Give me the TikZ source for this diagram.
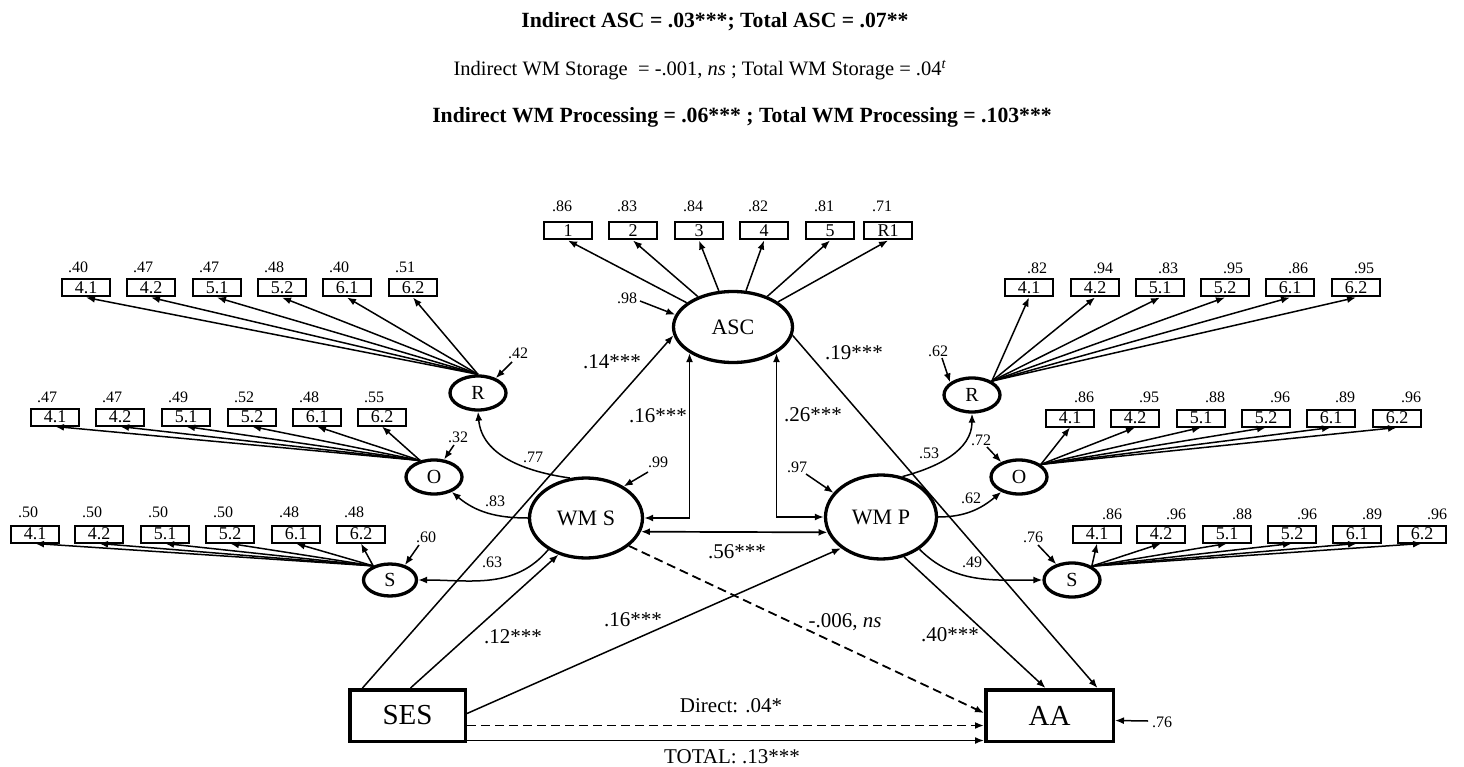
\documentclass[tikz,border=0pt]{standalone}
\usepackage{fontspec}
\setmainfont{Liberation Serif}
\usetikzlibrary{arrows.meta,shapes.geometric,calc}
\newcommand\fsz[1]{\fontsize{#1}{#1}\selectfont}
\begin{document}
\begin{tikzpicture}[x=1pt,y=1pt,
  lat/.style={ellipse,draw,line width=3.3pt,inner sep=0pt},
  latsm/.style={lat,minimum width=56pt,minimum height=34pt,font=\fsz{20}},
  obs/.style={rectangle,draw,line width=2pt,minimum width=48pt,minimum height=17pt,inner sep=0pt,font=\fsz{18}},
  bigbox/.style={rectangle,draw,line width=3.5pt,inner sep=0pt,minimum height=51.5pt,font=\fsz{29}},
  lab/.style={inner sep=0pt,font=\fsz{16}},
  plab/.style={inner sep=0pt,font=\fsz{21}},
  con/.style={line width=1.5pt,-{Latex[length=9pt,width=7pt]}},
  dcon/.style={line width=1.7pt,{Latex[length=9pt,width=7pt]}-{Latex[length=9pt,width=7pt]}},
  dashcon/.style={con,line width=1.8pt,dash pattern=on 9pt off 5pt},
]
\fill[white] (0,0) rectangle (1464,-767);
\useasboundingbox (0,0) rectangle (1464,-767);

% titles
\node[font=\fsz{21.7}\bfseries] (t1) at (715,-22) {Indirect ASC = .03***; Total ASC = .07**};
\node[font=\fsz{20.5}] (t2) at (700,-70) {Indirect WM Storage\ \ = -.001, \textit{ns} ; Total WM Storage = .04\textsuperscript{\textit{t}}};
\node[font=\fsz{21.7}\bfseries] (t3) at (742,-117) {Indirect WM Processing = .06*** ; Total WM Processing = .103***};

% latent variables
\node[lat,minimum width=119pt,minimum height=71pt,font=\fsz{22}] (asc) at (733,-327) {ASC};
\node[lat,minimum width=113pt,minimum height=80pt,font=\fsz{22}] (wms) at (586,-518) {WM S};
\node[lat,minimum width=111pt,minimum height=84pt,font=\fsz{22}] (wmp) at (881,-517) {WM P};
\node[latsm] (lR) at (478,-393) {R};
\node[latsm] (lO) at (434,-477) {O};
\node[latsm,minimum width=53pt,minimum height=32pt] (lS) at (390,-580) {S};
\node[latsm] (rR) at (972,-395) {R};
\node[latsm] (rO) at (1019,-477) {O};
\node[latsm] (rS) at (1072,-580) {S};

% observed
\node[bigbox,minimum width=115.5pt] (ses) at (407.5,-715.5) {SES};
\node[bigbox,minimum width=127.5pt] (aa) at (1049.5,-715.5) {AA};

% ASC indicators
\foreach \t/\x/\v [count=\i] in {1/568/.86,2/633/.83,3/699/.84,4/764/.82,5/830/.81,R1/888/.71}{
  \node[obs] (a\i) at (\x,-231) {\t};
  \node[lab] (av\i) at (\x-6,-206) {\v};
  \draw[con] (asc) -- (a\i.south);
}
% left R
\foreach \x/\v [count=\i] in {86/.40,151/.47,217/.47,282/.48,347/.40,413/.51}{
  \pgfmathsetmacro\tt{{"4.1","4.2","5.1","5.2","6.1","6.2"}[\i-1]}
  \node[obs] (lr\i) at (\x,-288) {\tt};
  \node[lab] (lrv\i) at (\x-8,-267) {\v};
  \draw[con] (lR.north) -- (lr\i.south);
}
% left O
\foreach \x/\v [count=\i] in {55/.47,120/.47,186/.49,252/.52,317/.48,382/.55}{
  \pgfmathsetmacro\tt{{"4.1","4.2","5.1","5.2","6.1","6.2"}[\i-1]}
  \node[obs] (lo\i) at (\x,-417) {\tt};
  \node[lab] (lov\i) at (\x-8,-397) {\v};
  \draw[con] (lO.130) -- (lo\i.south);
}
% left S
\foreach \x/\v [count=\i] in {35/.50,99/.50,165/.50,230/.50,296/.48,361/.48}{
  \pgfmathsetmacro\tt{{"4.1","4.2","5.1","5.2","6.1","6.2"}[\i-1]}
  \node[obs] (ls\i) at (\x,-534) {\tt};
  \node[lab] (lsv\i) at (\x-7,-512) {\v};
  \draw[con] (lS.140) -- (ls\i.south);
}
% right R
\foreach \x/\v [count=\i] in {1029/.82,1095/.94,1160/.83,1225/.95,1290/.86,1356/.95}{
  \pgfmathsetmacro\tt{{"4.1","4.2","5.1","5.2","6.1","6.2"}[\i-1]}
  \node[obs] (rr\i) at (\x,-288) {\tt};
  \node[lab] (rrv\i) at (\x+8,-268) {\v};
  \draw[con] (rR.35) -- (rr\i.south);
}
% right O
\foreach \x/\v [count=\i] in {1070/.86,1135/.95,1201/.88,1266/.96,1331/.89,1397/.96}{
  \pgfmathsetmacro\tt{{"4.1","4.2","5.1","5.2","6.1","6.2"}[\i-1]}
  \node[obs] (ro\i) at (\x,-418) {\tt};
  \node[lab] (rov\i) at (\x+14,-397) {\v};
  \draw[con] (rO.30) -- (ro\i.south);
}
% right S
\foreach \x/\v [count=\i] in {1097/.86,1161/.96,1227/.88,1292/.96,1357/.89,1422/.96}{
  \pgfmathsetmacro\tt{{"4.1","4.2","5.1","5.2","6.1","6.2"}[\i-1]}
  \node[obs] (rs\i) at (\x,-534) {\tt};
  \node[lab] (rsv\i) at (\x+15,-514) {\v};
  \draw[con] (rS.35) -- (rs\i.south);
}

% second-order loadings
\draw[con] (wms.112) to[out=172,in=-85] (lR.south);
\draw[con] (wms.180) to[out=180,in=-40] (lO.-40);
\draw[con] (wms.-140) to[out=-130,in=0] (lS.east);
\draw[con] (wmp.62) to[out=15,in=-90] (rR.south);
\draw[con] (wmp.east) to[out=0,in=-140] (rO.-140);
\draw[con] (wmp.-40) to[out=-45,in=180] (rS.west);
\node[lab] (l77) at (533,-457) {.77};
\node[lab] (l83) at (495,-501) {.83};
\node[lab] (l63) at (492,-562) {.63};
\node[lab] (l53) at (929,-453) {.53};
\node[lab] (l62) at (971,-498) {.62};
\node[lab] (l49) at (972,-562) {.49};

% residuals
\coordinate (c98) at (640,-301); \draw[con] (c98) -- (asc.168); \node[lab] (r98) at (627,-298) {.98};
\coordinate (c99) at (648,-472); \draw[con] (c99) -- (wms.40); \node[lab] (r99) at (658,-462) {.99};
\coordinate (c97) at (806,-474); \draw[con] (c97) -- (wmp.153); \node[lab] (r97) at (797,-467) {.97};
\coordinate (c42) at (512,-362); \draw[con] (c42) -- (lR.40); \node[lab] (r42) at (518,-353) {.42};
\coordinate (c32) at (454,-445); \draw[con] (c32) -- (lO.60); \node[lab] (r32) at (458,-437) {.32};
\coordinate (c60) at (419,-545); \draw[con] (c60) -- (lS.45); \node[lab] (r60) at (426,-537) {.60};
\coordinate (c62) at (942,-358); \draw[con] (c62) -- (rR.150); \node[lab] (r62) at (938,-351) {.62};
\coordinate (c72) at (987,-447); \draw[con] (c72) -- (rO.140); \node[lab] (r72) at (981,-440) {.72};
\coordinate (c76) at (1038,-545); \draw[con] (c76) -- (rS.135); \node[lab] (r76) at (1033,-537) {.76};
\coordinate (c76b) at (1148,-721); \draw[con] (c76b) -- ([yshift=-5pt]aa.east); \node[lab] (r76b) at (1162,-722) {.76};

% structural paths
\draw[con] ([xshift=-45pt]ses.north) -- (asc.188);
\draw[con] ([xshift=3pt]ses.north) -- (wms.233);
\draw[con] ([yshift=2pt]ses.east) -- (wmp.218);
\draw[dashcon] ([yshift=-10pt]ses.east) -- ([yshift=-10pt]aa.west);
\draw[con] ([yshift=-25pt]ses.east) -- ([yshift=-25pt]aa.west);
\draw[dashcon] (wms.-33) -- ([yshift=2.5pt]aa.west);
\draw[con] (wmp.-60) -- ([xshift=-4pt]aa.north);
\draw[con] (asc.-8) -- ([xshift=48pt]aa.north);
\draw[dcon] (asc.211) |- (wms.east);
\draw[dcon] (asc.-31) |- (wmp.west);
\draw[dcon] (wms.-14) -- (wmp.196);

% path labels
\node[plab] (p14) at (612,-362) {.14***};
\node[plab] (p19) at (854,-353) {.19***};
\node[plab] (p16a) at (658,-416) {.16***};
\node[plab] (p26) at (813,-415) {.26***};
\node[plab] (p56) at (737,-552) {.56***};
\node[plab] (p12) at (513,-637) {.12***};
\node[plab] (p16b) at (633,-620) {.16***};
\node[plab] (p006) at (845,-622) {-.006, \textit{ns}};
\node[plab] (p40) at (950,-635) {.40***};
\node[plab] (pdir) at (731,-706) {Direct: .04*};
\node[plab] (ptot) at (732,-757) {TOTAL: .13***};
\end{tikzpicture}
\end{document}
